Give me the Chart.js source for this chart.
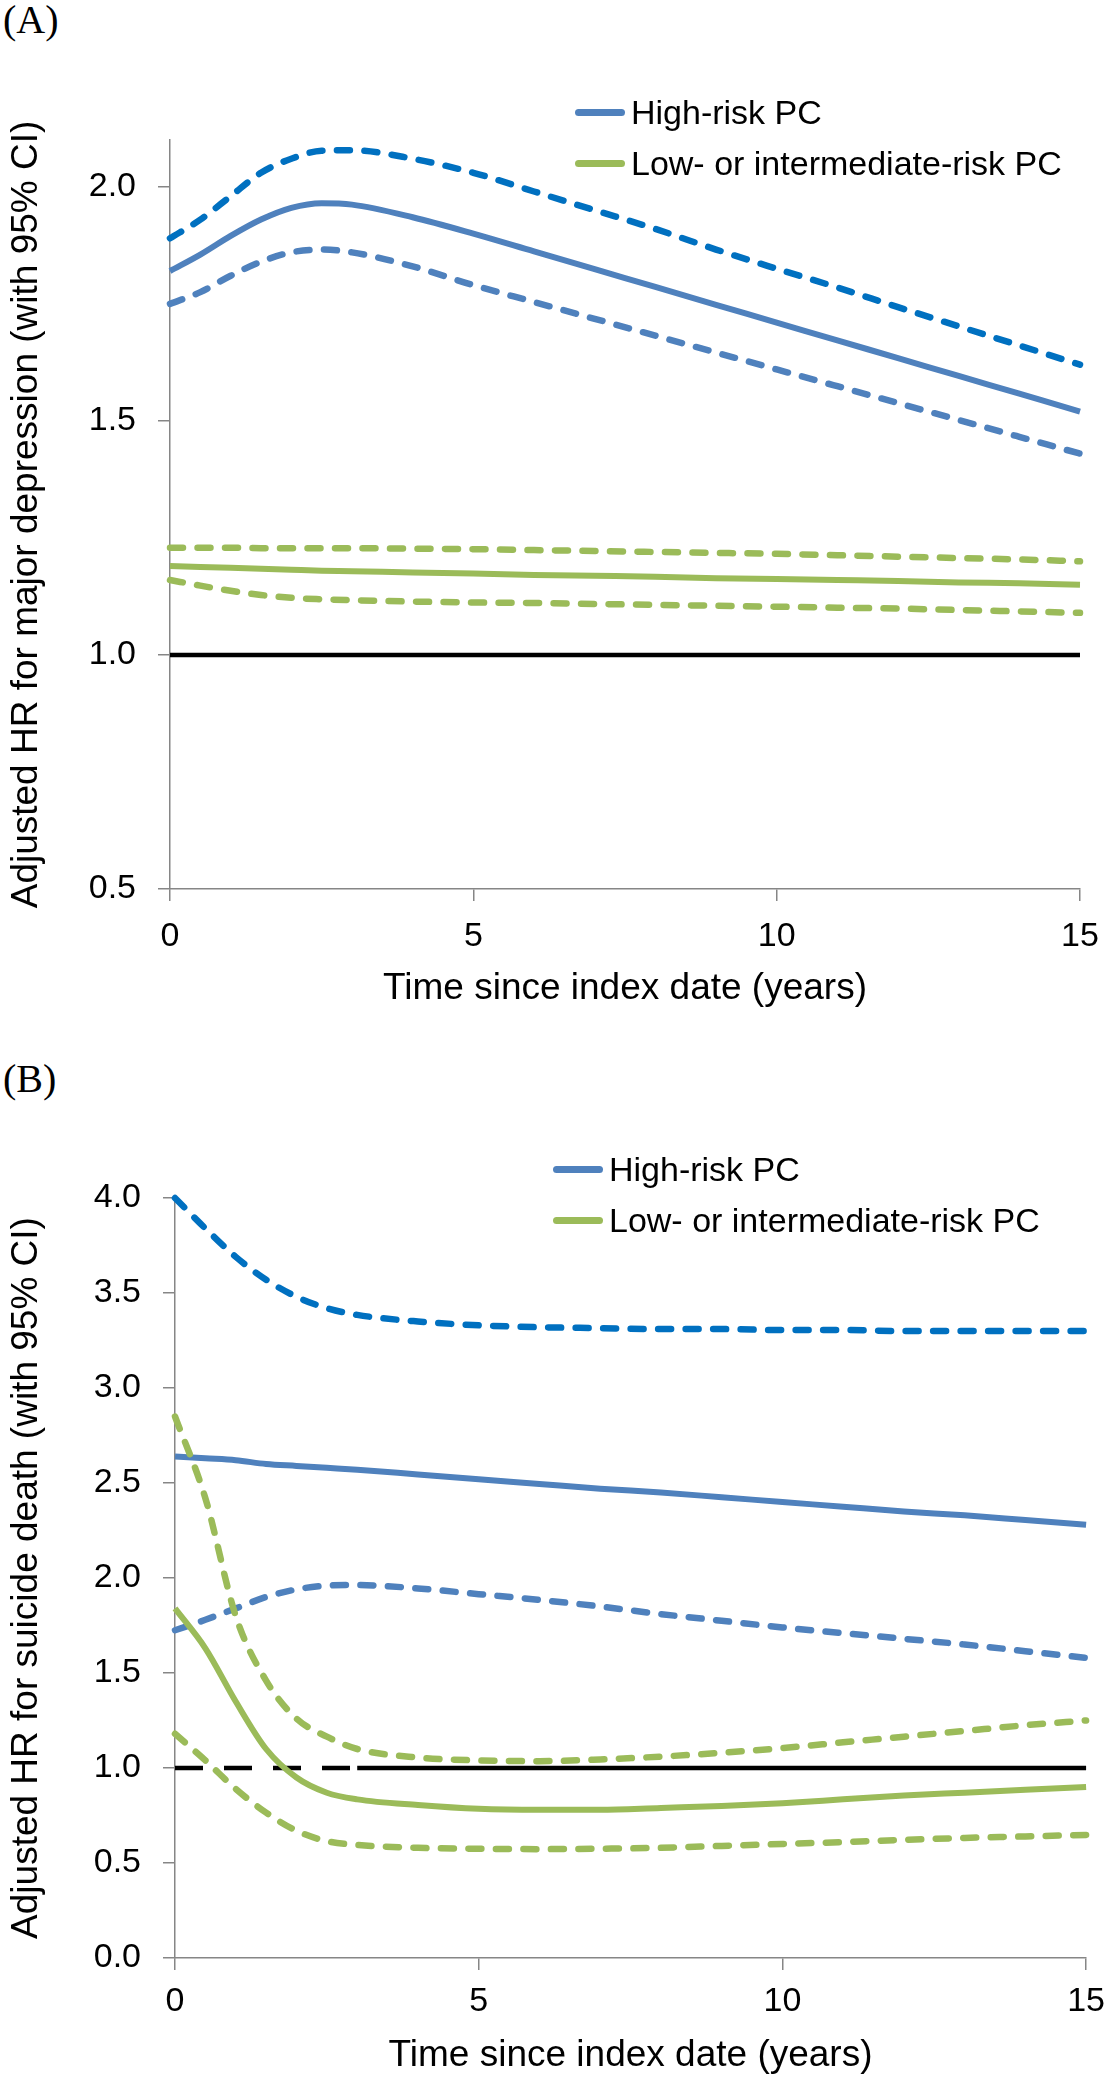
<!DOCTYPE html>
<html>
<head>
<meta charset="utf-8">
<script src="https://cdn.jsdelivr.net/npm/chart.js@4.4.1/dist/chart.umd.min.js"></script>
<style>
body { margin:0; background:#fff; width:1116px; height:2085px; position:relative; overflow:hidden; font-family:"Liberation Sans", Arial, sans-serif; }
.panel { position:absolute; left:0; }
.tag { position:absolute; left:3px; font:40px/40px "Liberation Serif", "Times New Roman", serif; color:#000; }
.legend { position:absolute; font-size:34px; color:#000; line-height:51px; }
.legend .row { display:flex; align-items:center; height:51px; white-space:nowrap; }
.legend .ln { display:inline-block; width:50px; height:7px; border-radius:4px; margin-right:6px; }
</style>
</head>
<body>
<div class="tag" style="top:0px">(A)</div>
<div class="tag" style="top:1059px">(B)</div>
<div class="panel" style="top:0px"><canvas id="chartA" width="1116" height="1030"></canvas></div>
<div class="panel" style="top:1040px"><canvas id="chartB" width="1116" height="1045"></canvas></div>
<div class="legend" id="legendA" style="left:575px; top:87px"></div>
<div class="legend" id="legendB" style="left:553px; top:1144px"></div>
<script>
// years since index date, same grid for every curve
var years = [0, 0.5, 1, 1.5, 2, 2.5, 3, 4, 5, 6, 7, 8, 9, 10, 11, 12, 13, 14, 15];

// (A) major depression
var depHigh   = [1.82, 1.855, 1.895, 1.93, 1.955, 1.965, 1.962, 1.935, 1.90, 1.862, 1.824, 1.786, 1.748, 1.71, 1.672, 1.634, 1.596, 1.558, 1.52];
var depHighHi = [1.89, 1.93, 1.98, 2.03, 2.06, 2.077, 2.078, 2.06, 2.03, 1.99, 1.95, 1.91, 1.866, 1.825, 1.785, 1.743, 1.702, 1.661, 1.62];
var depHighLo = [1.75, 1.775, 1.81, 1.84, 1.86, 1.866, 1.86, 1.83, 1.79, 1.754, 1.718, 1.682, 1.646, 1.61, 1.574, 1.538, 1.502, 1.466, 1.43];
var depLow    = [1.19, 1.188, 1.186, 1.184, 1.182, 1.18, 1.179, 1.176, 1.174, 1.171, 1.169, 1.167, 1.164, 1.162, 1.16, 1.158, 1.155, 1.153, 1.15];
var depLowHi  = [1.229, 1.229, 1.229, 1.228, 1.228, 1.228, 1.228, 1.227, 1.226, 1.224, 1.222, 1.220, 1.218, 1.216, 1.213, 1.210, 1.207, 1.204, 1.20];
var depLowLo  = [1.16, 1.148, 1.137, 1.128, 1.122, 1.119, 1.117, 1.114, 1.112, 1.111, 1.109, 1.107, 1.105, 1.103, 1.101, 1.099, 1.096, 1.093, 1.09];

// (B) suicide death
var suiHigh   = [2.64, 2.63, 2.62, 2.60, 2.59, 2.58, 2.57, 2.545, 2.52, 2.495, 2.47, 2.45, 2.425, 2.40, 2.375, 2.35, 2.33, 2.305, 2.28];
var suiHighHi = [4.0, 3.84, 3.69, 3.57, 3.48, 3.42, 3.385, 3.35, 3.33, 3.32, 3.315, 3.31, 3.31, 3.305, 3.305, 3.30, 3.30, 3.30, 3.30];
var suiHighLo = [1.725, 1.78, 1.84, 1.90, 1.94, 1.96, 1.963, 1.945, 1.915, 1.885, 1.85, 1.81, 1.775, 1.74, 1.71, 1.68, 1.65, 1.615, 1.58];
var suiLow    = [1.84, 1.63, 1.35, 1.10, 0.95, 0.87, 0.835, 0.805, 0.785, 0.78, 0.78, 0.79, 0.80, 0.815, 0.835, 0.855, 0.87, 0.885, 0.90];
var suiLowHi  = [2.85, 2.42, 1.80, 1.46, 1.26, 1.165, 1.10, 1.055, 1.04, 1.036, 1.045, 1.06, 1.08, 1.105, 1.135, 1.165, 1.195, 1.225, 1.25];
var suiLowLo  = [1.18, 1.04, 0.89, 0.765, 0.67, 0.615, 0.595, 0.58, 0.575, 0.573, 0.575, 0.58, 0.59, 0.60, 0.61, 0.622, 0.632, 0.64, 0.648];

// reference line HR = 1 (panel B: dashed for the first 3 years)
var refX = [0, 15];
var refDashX = [0, 3];
var refSolidX = [3, 15];
var refY = [1, 1];

var xTicks = [0, 5, 10, 15];
var yTicksA = [0.5, 1.0, 1.5, 2.0];
var yTicksB = [0, 0.5, 1.0, 1.5, 2.0, 2.5, 3.0, 3.5, 4.0];
var seriesNames = ['High-risk PC', 'Low- or intermediate-risk PC'];

var BLUE = '#4F81BD', DARKBLUE = '#0070C0', GREEN = '#9BBB59';

Chart.defaults.font.family = '"Liberation Sans", Arial, sans-serif';

function pts(xs, ys) {
	return xs.map(function(x, i) { return {x: x, y: ys[i]}; });
}

function curve(xs, ys, color, dashed, order) {
	return {
		data: pts(xs, ys),
		borderColor: color,
		borderWidth: dashed ? 6.5 : 6,
		borderDash: dashed ? [13, 14.5] : [],
		borderCapStyle: dashed ? 'round' : 'butt',
		borderJoinStyle: 'round',
		cubicInterpolationMode: 'monotone',
		pointRadius: 0,
		fill: false,
		clip: 8,
		order: order
	};
}

function refLine(xs, dashed) {
	return {
		data: pts(xs, refY),
		borderColor: '#000',
		borderWidth: 4.5,
		borderDash: dashed ? [28, 21] : [],
		pointRadius: 0,
		tension: 0,
		fill: false,
		clip: 8,
		order: 9
	};
}

function makeChart(id, datasets, o) {
	return new Chart(document.getElementById(id), {
		type: 'line',
		data: {datasets: datasets},
		options: {
			responsive: false,
			animation: false,
			layout: {padding: {top: o.top, right: o.right, left: 0, bottom: 0}},
			plugins: {legend: {display: false}, tooltip: {enabled: false}},
			scales: {
				x: {
					type: 'linear', min: 0, max: 15,
					afterBuildTicks: function(s) { s.ticks = xTicks.map(function(v) { return {value: v}; }); },
					afterFit: function(s) { s.height = o.xHeight; },
					grid: {drawOnChartArea: false, tickLength: 12, color: '#868686', lineWidth: 1.5},
					border: {color: '#868686', width: 1.5},
					ticks: {color: '#000', font: {size: 34}, padding: o.xPad, maxRotation: 0},
					title: {display: true, text: 'Time since index date (years)', color: '#000', font: {size: 37}, padding: {top: 0, bottom: o.xTitlePad}}
				},
				y: {
					type: 'linear', min: o.yMin, max: o.yMax,
					afterBuildTicks: function(s) { s.ticks = o.yTicks.map(function(v) { return {value: v}; }); },
					afterFit: function(s) { s.width = o.yWidth; },
					grid: {drawOnChartArea: false, tickLength: 12, color: '#868686', lineWidth: 1.5},
					border: {color: '#868686', width: 1.5},
					ticks: {color: '#000', font: {size: 34}, padding: 22, callback: function(v) { return v.toFixed(1); }},
					title: {display: true, text: o.yTitle, color: '#000', font: {size: 37}, padding: {top: 5, bottom: 0}}
				}
			}
		}
	});
}

makeChart('chartA', [
	curve(years, depHigh, BLUE, false, 1),
	curve(years, depHighHi, DARKBLUE, true, 2),
	curve(years, depHighLo, BLUE, true, 3),
	curve(years, depLow, GREEN, false, 4),
	curve(years, depLowHi, GREEN, true, 5),
	curve(years, depLowLo, GREEN, true, 6),
	refLine(refX, false)
], {top: 140, right: 36, xHeight: 141, xPad: 15, xTitlePad: 19, yWidth: 170,
	yMin: 0.5, yMax: 2.1, yTicks: yTicksA, yTitle: 'Adjusted HR for major depression (with 95% CI)'});

makeChart('chartB', [
	curve(years, suiLow, GREEN, false, 1),
	curve(years, suiLowHi, GREEN, true, 2),
	curve(years, suiLowLo, GREEN, true, 3),
	curve(years, suiHigh, BLUE, false, 4),
	curve(years, suiHighHi, DARKBLUE, true, 5),
	curve(years, suiHighLo, BLUE, true, 6),
	refLine(refDashX, true),
	refLine(refSolidX, false)
], {top: 158, right: 26, xHeight: 127, xPad: 11, xTitlePad: 7, yWidth: 175,
	yMin: 0, yMax: 4, yTicks: yTicksB, yTitle: 'Adjusted HR for suicide death (with 95% CI)'});

// legends: solid line swatch + name
['legendA', 'legendB'].forEach(function(id) {
	var el = document.getElementById(id);
	[BLUE, GREEN].forEach(function(c, i) {
		var row = document.createElement('div');
		row.className = 'row';
		row.innerHTML = '<span class="ln" style="background:' + c + '"></span>' + seriesNames[i];
		el.appendChild(row);
	});
});
</script>
</body>
</html>
